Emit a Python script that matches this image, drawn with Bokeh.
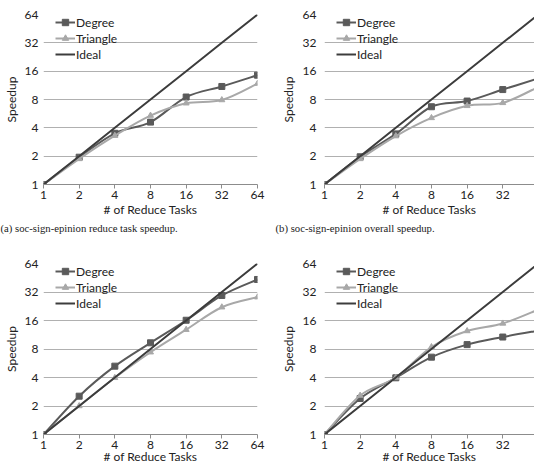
import numpy as np
from bokeh.plotting import figure
from bokeh.layouts import column, row
from bokeh.models import (Range1d, FixedTicker, NumeralTickFormatter, Legend,
                          LegendItem, Title)
from bokeh.embed import file_html
from bokeh.resources import INLINE

# Number of reduce tasks (x) and speedup tick values (y)
tasks = [1, 2, 4, 8, 16, 32, 64]
speedup_ticks = [1, 2, 4, 8, 16, 32, 64]
ideal = [1, 2, 4, 8, 16, 32, 64]

# (a) soc-sign-epinion, reduce task speedup
a_degree = [1, 1.95, 3.5, 4.6, 8.5, 11.0, 14.5]
a_triangle = [1, 1.87, 3.3, 5.4, 7.3, 7.9, 11.8]
# (b) soc-sign-epinion, overall speedup
b_degree = [1, 1.97, 3.45, 6.7, 7.7, 10.2, 13.4]
b_triangle = [1, 1.87, 3.27, 5.1, 6.85, 7.37, 10.9]
# (c) reduce task speedup, second graph
c_degree = [1, 2.54, 5.27, 9.3, 16.1, 29.4, 43.4]
c_triangle = [1, 2.0, 3.97, 7.4, 12.8, 22.1, 28.2]
# (d) overall speedup, second graph
d_degree = [1, 2.4, 3.97, 6.56, 8.9, 10.7, 12.5]
d_triangle = [1, 2.58, 4.0, 8.4, 12.4, 14.9, 20.9]

captions = ["(a) soc-sign-epinion reduce task speedup.",
            "(b) soc-sign-epinion overall speedup."]

FONT = "Lato"
DEGREE_COLOR = "#5a5a5a"
TRIANGLE_COLOR = "#a8a8a8"
IDEAL_COLOR = "#3c3c3c"


def smooth(xs, ys):
    """Cubic Bezier pieces (Catmull-Rom) through the points, in log2 space."""
    lx, ly = np.log2(xs), np.log2(ys)
    pts = np.column_stack([lx, ly])
    n = len(pts)
    out = {k: [] for k in ("x0", "y0", "x1", "y1", "cx0", "cy0", "cx1", "cy1")}
    for i in range(n - 1):
        p0 = pts[max(i - 1, 0)]
        p1 = pts[i]
        p2 = pts[i + 1]
        p3 = pts[min(i + 2, n - 1)]
        c1 = p1 + (p2 - p0) / 6.0
        c2 = p2 - (p3 - p1) / 6.0
        for key, val in (("x0", p1[0]), ("y0", p1[1]), ("x1", p2[0]), ("y1", p2[1]),
                         ("cx0", c1[0]), ("cy0", c1[1]), ("cx1", c2[0]), ("cy1", c2[1])):
            out[key].append(2.0 ** val)
    return out


def make_panel(degree, triangle, width, height, border, x_end,
               xlabel_standoff, ylabel_standoff, ylabel_label_standoff,
               legend_y, caption=None, caption_offset=0):
    left, right, top, bottom = border
    p = figure(width=width, height=height, x_axis_type="log", y_axis_type="log",
               x_range=Range1d(1, x_end), y_range=Range1d(1, 64),
               output_backend="svg", toolbar_location=None,
               min_border_left=left, min_border_right=right,
               min_border_top=top, min_border_bottom=bottom)
    p.outline_line_color = None
    p.background_fill_color = "white"
    p.border_fill_color = "white"

    for ax in (p.xaxis[0], p.yaxis[0]):
        ax.ticker = FixedTicker(ticks=speedup_ticks)
        ax.formatter = NumeralTickFormatter(format="0")
        ax.major_label_text_font = FONT
        ax.major_label_text_font_size = "12px"
        ax.major_label_text_color = "#222222"
        ax.axis_label_text_font = FONT
        ax.axis_label_text_font_size = "12px"
        ax.axis_label_text_font_style = "normal"
        ax.axis_label_text_color = "#222222"
        ax.minor_tick_line_color = None

    xa = p.xaxis[0]
    xa.axis_label = "# of Reduce Tasks"
    xa.axis_line_color = "#8c8c8c"
    xa.major_tick_line_color = "#8c8c8c"
    xa.major_tick_out = 4
    xa.major_tick_in = 0
    xa.major_label_standoff = 2
    xa.axis_label_standoff = xlabel_standoff

    ya = p.yaxis[0]
    ya.axis_label = "Speedup"
    ya.axis_line_color = None
    ya.major_tick_line_color = None
    ya.major_tick_out = 0
    ya.major_tick_in = 0
    ya.major_label_standoff = ylabel_standoff
    ya.axis_label_standoff = ylabel_label_standoff

    p.xgrid.grid_line_color = None
    p.ygrid.ticker = FixedTicker(ticks=speedup_ticks)
    p.ygrid.grid_line_color = "#b0b0b0"
    p.ygrid.grid_line_width = 1

    d = smooth(tasks, degree)
    t = smooth(tasks, triangle)
    rd = p.bezier(x0=d["x0"], y0=d["y0"], x1=d["x1"], y1=d["y1"],
                  cx0=d["cx0"], cy0=d["cy0"], cx1=d["cx1"], cy1=d["cy1"],
                  line_color=DEGREE_COLOR, line_width=2)
    sd = p.scatter(tasks, degree, marker="square", size=6,
                   fill_color=DEGREE_COLOR, line_color=DEGREE_COLOR)
    rt = p.bezier(x0=t["x0"], y0=t["y0"], x1=t["x1"], y1=t["y1"],
                  cx0=t["cx0"], cy0=t["cy0"], cx1=t["cx1"], cy1=t["cy1"],
                  line_color=TRIANGLE_COLOR, line_width=2)
    st = p.scatter(tasks, triangle, marker="triangle", size=6,
                   fill_color=TRIANGLE_COLOR, line_color=TRIANGLE_COLOR)
    ri = p.line(tasks, ideal, line_color=IDEAL_COLOR, line_width=2)

    legend = Legend(items=[LegendItem(label="Degree", renderers=[rd, sd]),
                           LegendItem(label="Triangle", renderers=[rt, st]),
                           LegendItem(label="Ideal", renderers=[ri])],
                    location=(12, legend_y), orientation="vertical",
                    glyph_width=20, glyph_height=16, label_height=16,
                    label_width=55, spacing=0, padding=0, margin=0,
                    label_standoff=1, background_fill_alpha=0,
                    border_line_alpha=0, label_text_font=FONT,
                    label_text_font_size="12px", label_text_color="#222222")
    p.add_layout(legend)

    if caption:
        p.add_layout(Title(text=caption, align="left", offset=caption_offset,
                           standoff=0, text_font="Liberation Serif",
                           text_font_size="10.7px", text_font_style="normal",
                           text_color="#222222"), "below")
    return p


x_cut = 2 ** 5.89  # right-hand panels run off the edge of the page

pa = make_panel(a_degree, a_triangle, 267, 236, (43, 10, 14, 52), 64,
                0, 5, 3, 122, captions[0], -43)
pb = make_panel(b_degree, b_triangle, 267, 236, (57, 0, 14, 52), x_cut,
                0, 8, 4, 122, captions[1], -49)
pc = make_panel(c_degree, c_triangle, 267, 236, (43, 10, 27, 38), 64,
                -3, 5, 3, 123)
pd = make_panel(d_degree, d_triangle, 267, 236, (57, 0, 27, 38), x_cut,
                -3, 8, 4, 123)

layout = column(row(pa, pb, spacing=0), row(pc, pd, spacing=0), spacing=0)

with open("out.html", "w") as f:
    f.write(file_html(layout, INLINE))
